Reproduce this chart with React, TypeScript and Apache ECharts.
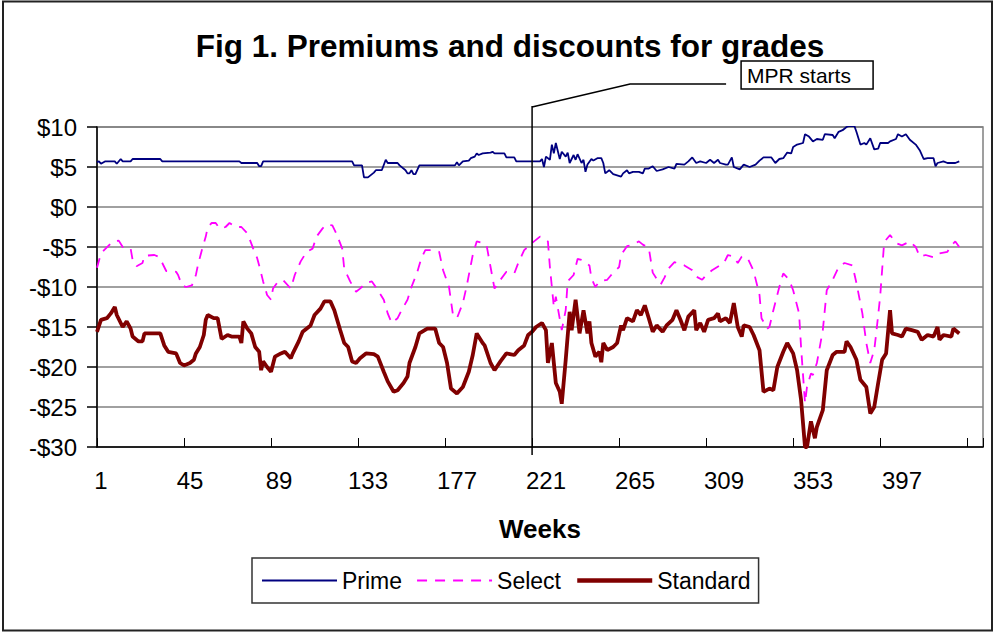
import React, { useEffect, useRef } from "react";
import * as echarts from "echarts";

// ---- data (week, $ premium/discount) ----
const prime: [number, number][] = [
  [1,5.6],[2,5.7],[3,5.4],[5,5.7],[10,5.7],[11,5.4],[13,6.0],[14,5.7],[18,5.7],[19,6.0],[33,6.0],[34,5.7],
  [73,5.7],[74,5.5],[82,5.5],[83,5.1],[84,5.1],[85,5.7],[130,5.7],[131,5.2],[135,5.2],[136,3.7],[138,3.7],
  [141,4.3],[142,4.6],[145,4.6],[147,5.9],[148,5.5],[153,5.5],[154,5.2],[157,4.6],[158,4.2],[159,4.2],[160,4.6],
  [161,4.1],[162,4.1],[164,5.2],[182,5.2],[183,5.6],[184,5.2],[186,5.7],[189,5.8],[190,6.1],[192,6.3],[193,6.7],
  [194,6.5],[196,6.7],[200,6.8],[201,6.9],[202,6.7],[207,6.7],[208,6.2],[212,6.2],[213,5.7],[225,5.7],[226,6.0],
  [227,5.0],[228,6.3],[230,5.9],[231,7.8],[232,6.7],[233,8.0],[235,6.0],[236,6.9],[238,6.3],[239,6.8],[240,5.5],
  [242,6.5],[243,5.9],[244,6.6],[246,5.5],[247,5.9],[248,4.4],[249,5.3],[251,6.0],[252,5.8],[254,6.1],[256,6.1],
  [257,5.5],[258,4.2],[260,4.6],[262,4.1],[266,3.8],[267,4.2],[269,4.6],[270,4.2],[272,4.4],[275,4.4],[277,4.2],
  [278,4.8],[280,4.8],[282,5.1],[284,4.5],[287,4.7],[290,5.0],[293,4.8],[294,5.4],[298,5.3],[300,5.7],[302,6.2],
  [304,5.5],[306,5.7],[309,5.5],[311,5.9],[313,5.5],[315,5.9],[316,5.5],[319,5.3],[320,5.3],[322,6.2],[323,5.0],
  [326,4.7],[328,5.3],[331,5.0],[334,5.3],[336,5.8],[338,6.2],[342,6.2],[344,5.5],[346,6.0],[348,6.1],[350,6.8],
  [352,6.7],[353,7.5],[355,7.8],[358,8.0],[359,9.1],[361,8.8],[363,8.2],[365,8.5],[368,8.4],[369,9.1],[373,9.0],
  [374,8.6],[376,9.4],[378,9.6],[380,10.0],[381,10.1],[384,10.1],[385,9.4],[387,7.8],[389,8.0],[390,7.8],[392,8.6],
  [394,7.2],[396,7.3],[397,8.0],[401,8.0],[402,8.2],[405,8.5],[406,9.1],[408,8.8],[410,9.1],[412,8.4],[415,7.8],
  [417,7.1],[419,6.0],[421,6.1],[424,6.1],[425,5.1],[426,5.5],[429,5.7],[431,5.5],[435,5.5],[437,5.7],
];

const select: [number, number][] = [
  [1,-7.6],[3,-5.8],[7,-4.8],[9,-4.3],[12,-4.2],[14,-5.0],[18,-5.2],[19,-6.6],[21,-7.4],[24,-7.0],[25,-6.1],
  [30,-6.0],[32,-6.2],[34,-7.0],[36,-8.0],[41,-8.1],[42,-8.5],[44,-9.8],[46,-10.0],[49,-9.8],[51,-8.5],[52,-7.3],
  [54,-5.4],[56,-3.7],[57,-2.5],[59,-2.0],[61,-2.0],[63,-2.7],[66,-2.5],[68,-2.0],[71,-2.5],[74,-2.5],[77,-3.3],
  [78,-3.9],[80,-5.2],[82,-6.4],[83,-7.3],[85,-9.3],[87,-11.0],[89,-11.6],[90,-10.2],[92,-9.5],[95,-9.1],[99,-10.2],
  [101,-8.5],[104,-6.8],[107,-5.6],[110,-5.2],[112,-3.7],[115,-2.7],[117,-2.2],[120,-2.3],[122,-3.3],[125,-5.2],
  [126,-7.7],[129,-9.3],[132,-10.6],[134,-10.2],[137,-9.5],[140,-9.3],[143,-10.4],[146,-11.6],[148,-13.3],[150,-14.5],
  [153,-13.9],[155,-12.9],[158,-11.6],[160,-10.0],[163,-8.1],[165,-6.4],[167,-5.4],[171,-5.4],[174,-5.6],[176,-7.9],
  [179,-10.0],[181,-13.5],[183,-13.9],[186,-12.0],[188,-9.8],[191,-6.0],[193,-4.3],[196,-4.5],[198,-4.8],[200,-7.5],
  [202,-10.2],[205,-9.1],[208,-8.1],[212,-8.3],[214,-7.0],[217,-5.4],[221,-4.5],[225,-3.7],[229,-4.3],[230,-7.5],
  [232,-12.5],[233,-11.2],[236,-15.4],[238,-12.9],[239,-9.3],[242,-8.5],[244,-6.5],[246,-6.6],[250,-7.3],[251,-8.9],
  [253,-10.0],[255,-9.3],[259,-9.1],[261,-8.5],[265,-7.5],[266,-6.0],[269,-4.9],[272,-4.7],[275,-4.3],[277,-4.7],
  [280,-5.1],[282,-8.2],[284,-9.0],[286,-9.7],[288,-8.8],[290,-7.7],[293,-6.9],[298,-7.3],[302,-7.9],[304,-8.7],
  [307,-9.1],[309,-8.5],[312,-7.9],[318,-7.0],[320,-6.0],[323,-6.2],[325,-7.0],[327,-6.2],[330,-6.4],[333,-8.0],
  [336,-11.0],[337,-13.9],[340,-15.2],[341,-15.0],[343,-12.9],[346,-10.0],[348,-8.3],[351,-9.1],[353,-10.4],
  [356,-13.3],[357,-17.5],[359,-24.5],[360,-22.5],[362,-20.8],[363,-21.0],[365,-19.5],[368,-15.4],[370,-10.4],
  [373,-9.1],[376,-7.5],[379,-7.0],[383,-7.3],[385,-9.5],[388,-13.3],[390,-17.0],[392,-19.5],[394,-17.9],[395,-15.8],
  [397,-11.2],[399,-4.5],[400,-4.1],[402,-3.5],[405,-4.5],[408,-4.8],[412,-4.3],[415,-5.0],[417,-6.2],[420,-6.0],
  [424,-6.3],[427,-5.8],[431,-5.6],[433,-4.8],[435,-4.3],[437,-5.0],
];

const standard: [number, number][] = [
  [1,-15.6],[3,-14.1],[6,-13.9],[8,-13.3],[10,-12.5],[11,-13.5],[13,-14.5],[14,-15.0],[16,-14.3],[18,-15.2],
  [19,-16.2],[22,-16.8],[24,-16.8],[25,-15.8],[33,-15.8],[35,-17.3],[37,-18.1],[41,-18.3],[43,-19.5],[45,-19.8],
  [48,-19.5],[50,-19.1],[51,-18.3],[53,-17.5],[55,-16.0],[56,-14.1],[57,-13.5],[60,-13.9],[62,-13.9],[64,-16.5],
  [67,-16.0],[69,-16.2],[73,-16.2],[74,-17.0],[75,-14.3],[77,-15.2],[79,-15.8],[81,-17.5],[83,-18.1],[84,-20.4],
  [85,-19.3],[87,-20.0],[89,-20.6],[91,-18.7],[94,-18.3],[96,-18.1],[99,-18.9],[100,-18.3],[103,-16.8],[105,-15.6],
  [109,-14.8],[111,-13.5],[114,-12.7],[116,-11.8],[119,-11.8],[121,-12.9],[124,-15.4],[126,-17.0],[128,-17.5],
  [130,-19.3],[132,-19.5],[134,-18.9],[137,-18.3],[141,-18.4],[143,-18.7],[146,-20.6],[148,-21.8],[151,-23.1],
  [153,-22.9],[156,-22.0],[158,-21.2],[159,-19.5],[162,-17.5],[164,-15.8],[168,-15.2],[172,-15.2],[174,-17.0],
  [176,-17.5],[178,-19.5],[180,-22.7],[183,-23.3],[186,-22.5],[189,-20.6],[191,-18.5],[193,-15.8],[196,-17.0],
  [197,-17.3],[200,-19.5],[202,-20.4],[205,-19.3],[208,-18.3],[212,-18.5],[214,-17.9],[217,-17.3],[219,-16.0],
  [221,-15.6],[223,-15.0],[226,-14.5],[228,-15.4],[229,-19.5],[231,-17.0],[233,-22.0],[235,-23.1],[236,-24.6],
  [238,-19.1],[240,-13.1],[241,-15.4],[243,-11.6],[245,-15.8],[247,-12.9],[249,-15.8],[250,-14.3],[251,-17.0],
  [253,-18.7],[255,-18.1],[256,-19.4],[257,-17.0],[259,-17.9],[262,-17.5],[264,-17.0],[266,-14.8],[267,-15.4],
  [269,-13.9],[272,-14.3],[274,-12.9],[276,-13.5],[278,-12.3],[280,-13.9],[282,-15.6],[284,-14.8],[287,-15.6],
  [289,-14.8],[292,-14.1],[294,-12.9],[296,-14.1],[298,-15.4],[300,-13.7],[303,-12.9],[304,-15.4],[306,-14.5],
  [308,-15.6],[310,-14.1],[313,-13.9],[315,-13.3],[316,-14.3],[319,-13.9],[321,-14.5],[323,-12.0],[325,-15.0],
  [327,-16.2],[328,-14.8],[331,-15.0],[333,-16.0],[336,-17.9],[338,-23.1],[341,-22.7],[343,-22.9],[345,-20.0],
  [348,-18.1],[350,-17.0],[353,-18.3],[355,-20.4],[357,-24.1],[359,-30.0],[360,-30.0],[362,-26.8],[364,-28.9],
  [365,-27.5],[368,-25.4],[370,-20.4],[373,-18.5],[375,-18.1],[379,-18.1],[380,-16.8],[382,-17.5],[385,-19.1],
  [387,-21.6],[390,-22.5],[392,-25.8],[394,-25.0],[396,-22.0],[398,-19.1],[400,-18.3],[402,-12.9],[403,-15.8],
  [406,-16.0],[408,-16.2],[410,-15.2],[413,-15.4],[416,-15.6],[418,-16.6],[421,-16.0],[424,-16.2],[426,-15.0],
  [427,-16.6],[429,-16.0],[433,-16.2],[434,-15.2],[437,-15.8],
];

const xTickLabels = ["1", "45", "89", "133", "177", "221", "265", "309", "353", "397"];
const mprWeek = 221;
const titleText = "Fig 1. Premiums and discounts for grades";

const FONT = '"Liberation Sans", Arial, sans-serif';

const toXY = (arr: [number, number][]) => arr.map(([w, v]) => [w - 1, v]);

export default function App() {
  const ref = useRef<HTMLDivElement>(null);
  useEffect(() => {
    if (!ref.current) return;
    const chart = echarts.init(ref.current, undefined, { renderer: "svg" });
    const border = {
      type: "rect",
      id: "outer",
      shape: { x: 3, y: 1.5, width: 989, height: 629 },
      style: { fill: "none", stroke: "#222", lineWidth: 2 },
      z: 100,
    };
    chart.setOption({
      animation: false,
      backgroundColor: "#fff",
      textStyle: { fontFamily: FONT, color: "#000" },
      title: {
        text: titleText,
        left: 505,
        textAlign: "center",
        top: 25,
        textStyle: { fontSize: 31.5, fontWeight: "bold", color: "#000", fontFamily: FONT },
      },
      grid: [
        { left: 97, top: 127, width: 886, height: 320, show: true, borderColor: "#808080", borderWidth: 1.5, backgroundColor: "transparent" },
        { left: 101, top: 127, width: 801, height: 320, show: false },
      ],
      xAxis: [
        {
          type: "value",
          gridIndex: 0,
          min: 0,
          max: 448,
          interval: 44,
          axisLine: { show: true, onZero: false, lineStyle: { color: "#000", width: 1.5 } },
          axisTick: { show: true, inside: true, length: 9, lineStyle: { color: "#000", width: 1 } },
          axisLabel: { show: false },
          splitLine: { show: false },
          name: "Weeks",
          nameLocation: "middle",
          nameGap: 69,
          nameTextStyle: { fontSize: 26, fontWeight: "bold", color: "#000", fontFamily: FONT },
        },
        {
          type: "category",
          gridIndex: 1,
          data: xTickLabels,
          boundaryGap: false,
          axisLine: { show: false },
          axisTick: { show: false },
          splitLine: { show: false },
          axisLabel: { interval: 0, fontSize: 24, color: "#000", margin: 21, fontFamily: FONT },
        },
      ],
      yAxis: [
        {
          type: "value",
          gridIndex: 0,
          min: -30,
          max: 10,
          interval: 5,
          axisLine: { show: true, lineStyle: { color: "#000", width: 1.5 } },
          axisTick: { show: true, inside: false, length: 10, lineStyle: { color: "#000", width: 1.5 } },
          axisLabel: {
            fontSize: 24,
            color: "#000",
            margin: 20,
            fontFamily: FONT,
            formatter: (v: number) => (v < 0 ? "-$" + Math.abs(v) : "$" + v),
          },
          splitLine: { show: true, lineStyle: { color: "#808080", width: 1.5 } },
        },
        { type: "value", gridIndex: 1, show: false },
      ],
      legend: {
        left: 252,
        top: 558,
        orient: "horizontal",
        itemWidth: 75,
        itemHeight: 14,
        itemGap: 14,
        padding: [11, 8, 11, 9],
        borderColor: "#333",
        borderWidth: 1.5,
        itemStyle: { opacity: 0 },
        textStyle: { fontSize: 23, color: "#000", fontFamily: FONT },
        data: [
          { name: "Prime", lineStyle: { width: 2 } },
          { name: "Select", lineStyle: { width: 2, type: [10, 8] } },
          { name: "Standard", lineStyle: { width: 4.5 } },
        ],
      },
      series: [
        {
          name: "Prime",
          type: "line",
          xAxisIndex: 0,
          yAxisIndex: 0,
          data: toXY(prime),
          symbol: "none",
          lineStyle: { color: "#000080", width: 1.8 },
          itemStyle: { color: "#000080" },
        },
        {
          name: "Select",
          type: "line",
          xAxisIndex: 0,
          yAxisIndex: 0,
          data: toXY(select),
          symbol: "none",
          lineStyle: { color: "#FF00FF", width: 1.8, type: [10, 8] },
          itemStyle: { color: "#FF00FF" },
        },
        {
          name: "Standard",
          type: "line",
          xAxisIndex: 0,
          yAxisIndex: 0,
          data: toXY(standard),
          symbol: "none",
          lineStyle: { color: "#800000", width: 3.8 },
          itemStyle: { color: "#800000" },
        },
      ],
      graphic: [border],
    });

    const px = chart.convertToPixel({ xAxisIndex: 0 }, mprWeek - 1) as number;
    chart.setOption({
      graphic: [
        border,
        {
          type: "line",
          id: "mprV",
          shape: { x1: px, y1: 106, x2: px, y2: 455 },
          style: { stroke: "#000", lineWidth: 1.5 },
          z: 50,
        },
        {
          type: "polyline",
          id: "mprLeader",
          shape: { points: [[px, 107], [px + 98, 84], [px + 194, 84]] },
          style: { stroke: "#000", lineWidth: 1.5, fill: "none" },
          z: 50,
        },
        {
          type: "rect",
          id: "mprBox",
          shape: { x: px + 209, y: 61, width: 132, height: 28 },
          style: { fill: "#fff", stroke: "#000", lineWidth: 1.5 },
          z: 50,
        },
        {
          type: "text",
          id: "mprText",
          x: px + 215,
          y: 75,
          style: {
            text: "MPR starts",
            fontSize: 21,
            fontFamily: FONT,
            fill: "#000",
            verticalAlign: "middle",
            align: "left",
          },
          z: 51,
        },
      ],
    });

    return () => chart.dispose();
  }, []);
  return (
    <div
      ref={ref}
      style={{ position: "fixed", left: 0, top: 0, width: 1003, height: 634, background: "#fff" }}
    />
  );
}
